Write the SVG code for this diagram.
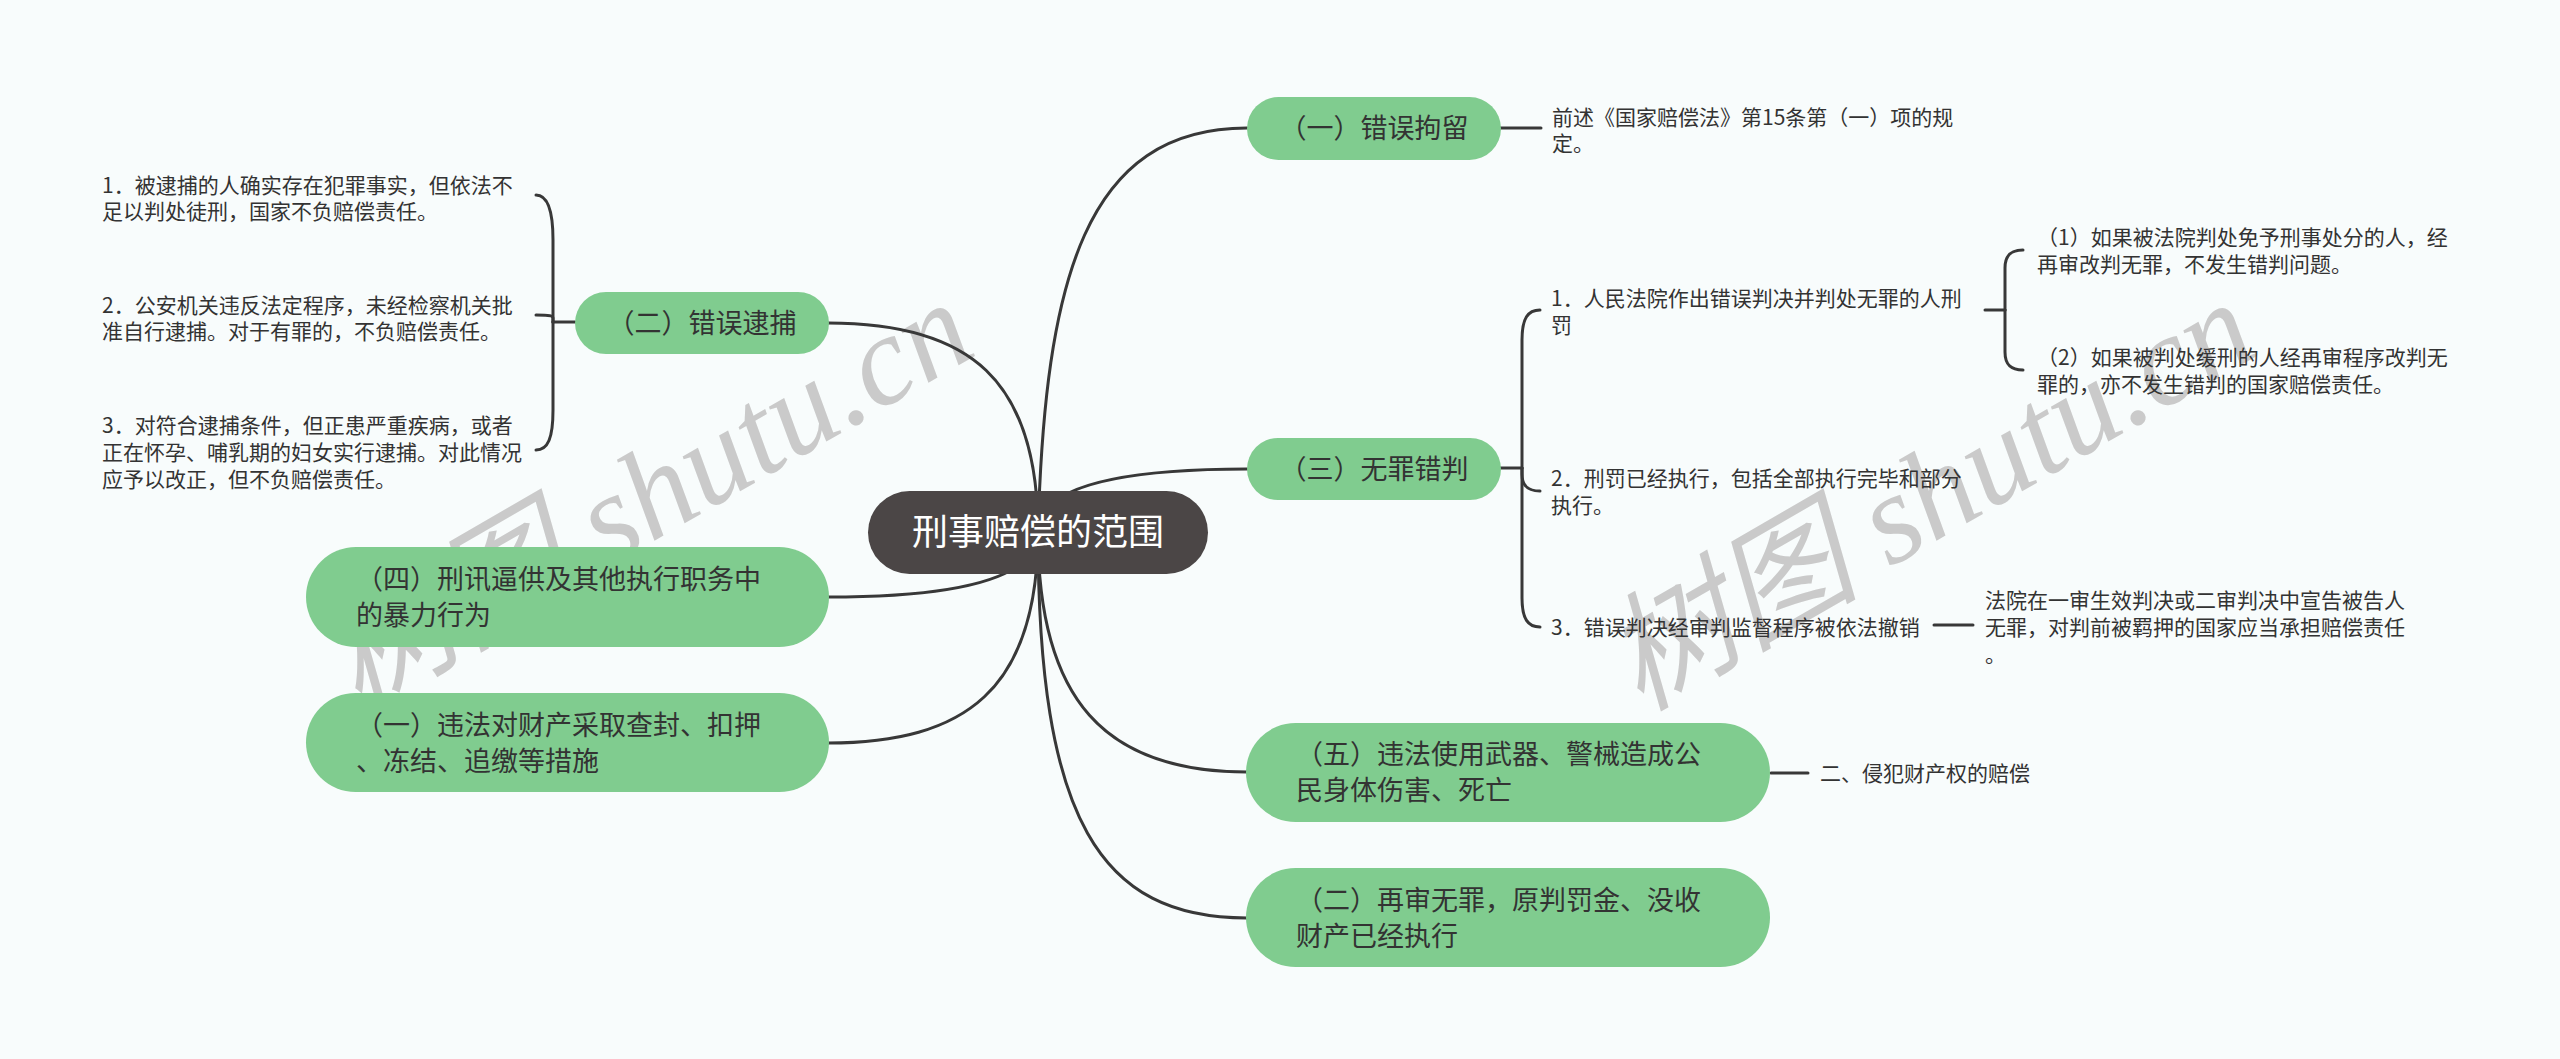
<svg xmlns="http://www.w3.org/2000/svg" width="2560" height="1059" viewBox="0 0 2560 1059">
<defs>
<style>
.bg{fill:#f8fcfc}
.ln{fill:none;stroke:#383838;stroke-width:3;stroke-linecap:round}
.pill{fill:#80cc8f}
.root{fill:#4b4646}
.pt{font-family:"Noto Sans CJK SC","Noto Sans",sans-serif;font-size:27px;fill:#333333}
.rt{font-family:"Noto Sans CJK SC","Noto Sans",sans-serif;font-size:36px;fill:#ffffff}
.st{font-family:"Noto Sans CJK SC","Noto Sans",sans-serif;font-size:21px;fill:#333333}
.wm{font-family:"Liberation Serif","Noto Sans CJK SC",serif;font-style:italic;font-size:128px;fill:#cacaca}
</style>
</defs>
<rect class="bg" x="0" y="0" width="2560" height="1059"/>

<g id="watermark">
<text class="wm" transform="translate(358,712) rotate(-30)">树图 shutu.cn</text>
<text class="wm" transform="translate(1640,712) rotate(-30)">树图 shutu.cn</text>
</g>

<g id="connectors">
<path class="ln" d="M1038 532 C1045 280 1085 128 1247 128"/>
<path class="ln" d="M1038 532 Q1038 469 1247 469"/>
<path class="ln" d="M1038 532 C1038 380 970 323 828 323"/>
<path class="ln" d="M1038 532 Q1038 597 828 597"/>
<path class="ln" d="M1038 532 C1038 690 965 743 828 743"/>
<path class="ln" d="M1038 532 C1038 700 1105 772 1247 772"/>
<path class="ln" d="M1038 532 C1038 820 1100 918 1247 918"/>
<path class="ln" d="M1499 128 L1541 128"/>
<path class="ln" d="M575 322 L553 322"/>
<path class="ln" d="M553 322 L553 240 C553 212 548 195 536 195"/>
<path class="ln" d="M553 322 L553 318 C553 316 550 315 536 315"/>
<path class="ln" d="M553 322 L553 410 C553 438 548 450 536 450"/>
<path class="ln" d="M1499 468 L1522 468"/>
<path class="ln" d="M1522 468 L1522 340 C1522 318 1528 310 1540 310"/>
<path class="ln" d="M1522 468 L1522 474 C1522 486 1528 491 1540 491"/>
<path class="ln" d="M1522 468 L1522 598 C1522 619 1528 627 1540 627"/>
<path class="ln" d="M1985 310 L2005 310"/>
<path class="ln" d="M2005 310 L2005 268 C2005 255 2011 250 2023 250"/>
<path class="ln" d="M2005 310 L2005 352 C2005 365 2011 370 2023 370"/>
<path class="ln" d="M1934 625 L1973 625"/>
<path class="ln" d="M1771 773 L1808 773"/>
</g>

<g id="root">
<rect class="root" x="868" y="491" width="340" height="83" rx="41.5"/>
<text class="rt" x="1038" y="545" text-anchor="middle">刑事赔偿的范围</text>
</g>

<g id="n-juliu">
<rect class="pill" x="1247" y="97" width="254" height="63" rx="31.5"/>
<text class="pt" x="1374" y="138" text-anchor="middle">（一）错误拘留</text>
</g>
<g id="n-juliu-c">
<text class="st" x="1552" y="125">前述《国家赔偿法》第15条第（一）项的规</text>
<text class="st" x="1552" y="151">定。</text>
</g>

<g id="n-daibu">
<rect class="pill" x="575" y="292" width="254" height="62" rx="31"/>
<text class="pt" x="702" y="333" text-anchor="middle">（二）错误逮捕</text>
</g>
<g id="n-daibu-1">
<text class="st" x="102" y="193">1．被逮捕的人确实存在犯罪事实，但依法不</text>
<text class="st" x="102" y="219">足以判处徒刑，国家不负赔偿责任。</text>
</g>
<g id="n-daibu-2">
<text class="st" x="102" y="313">2．公安机关违反法定程序，未经检察机关批</text>
<text class="st" x="102" y="339">准自行逮捕。对于有罪的，不负赔偿责任。</text>
</g>
<g id="n-daibu-3">
<text class="st" x="102" y="433">3．对符合逮捕条件，但正患严重疾病，或者</text>
<text class="st" x="102" y="460">正在怀孕、哺乳期的妇女实行逮捕。对此情况</text>
<text class="st" x="102" y="487">应予以改正，但不负赔偿责任。</text>
</g>

<g id="n-cuopan">
<rect class="pill" x="1247" y="438" width="254" height="62" rx="31"/>
<text class="pt" x="1374" y="479" text-anchor="middle">（三）无罪错判</text>
</g>
<g id="n-cuopan-1">
<text class="st" x="1551" y="306">1．人民法院作出错误判决并判处无罪的人刑</text>
<text class="st" x="1551" y="333">罚</text>
</g>
<g id="n-cuopan-1a">
<text class="st" x="2037" y="245">（1）如果被法院判处免予刑事处分的人，经</text>
<text class="st" x="2037" y="272">再审改判无罪，不发生错判问题。</text>
</g>
<g id="n-cuopan-1b">
<text class="st" x="2037" y="365">（2）如果被判处缓刑的人经再审程序改判无</text>
<text class="st" x="2037" y="392">罪的，亦不发生错判的国家赔偿责任。</text>
</g>
<g id="n-cuopan-2">
<text class="st" x="1551" y="486">2．刑罚已经执行，包括全部执行完毕和部分</text>
<text class="st" x="1551" y="513">执行。</text>
</g>
<g id="n-cuopan-3">
<text class="st" x="1551" y="635">3．错误判决经审判监督程序被依法撤销</text>
</g>
<g id="n-cuopan-3a">
<text class="st" x="1985" y="608">法院在一审生效判决或二审判决中宣告被告人</text>
<text class="st" x="1985" y="635">无罪，对判前被羁押的国家应当承担赔偿责任</text>
<text class="st" x="1985" y="662">。</text>
</g>

<g id="n-xingxun">
<rect class="pill" x="306" y="547" width="523" height="100" rx="50"/>
<text class="pt" x="356" y="589">（四）刑讯逼供及其他执行职务中</text>
<text class="pt" x="356" y="625">的暴力行为</text>
</g>

<g id="n-caichan">
<rect class="pill" x="306" y="693" width="523" height="99" rx="49.5"/>
<text class="pt" x="356" y="735">（一）违法对财产采取查封、扣押</text>
<text class="pt" x="356" y="771">、冻结、追缴等措施</text>
</g>

<g id="n-wuqi">
<rect class="pill" x="1246" y="723" width="524" height="99" rx="49.5"/>
<text class="pt" x="1296" y="764">（五）违法使用武器、警械造成公</text>
<text class="pt" x="1296" y="800">民身体伤害、死亡</text>
</g>
<g id="n-wuqi-c">
<text class="st" x="1820" y="781">二、侵犯财产权的赔偿</text>
</g>

<g id="n-zaishen">
<rect class="pill" x="1246" y="868" width="524" height="99" rx="49.5"/>
<text class="pt" x="1296" y="910">（二）再审无罪，原判罚金、没收</text>
<text class="pt" x="1296" y="946">财产已经执行</text>
</g>
</svg>
